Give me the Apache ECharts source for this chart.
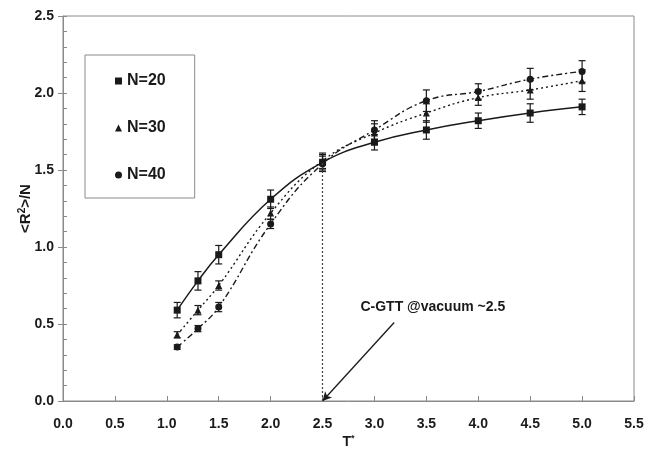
<!DOCTYPE html>
<html>
<head>
<meta charset="utf-8">
<script src="https://cdn.jsdelivr.net/npm/echarts@6/dist/echarts.min.js"></script>
<style>html,body{margin:0;padding:0;background:#fff}#c{width:648px;height:459px}</style>
</head>
<body>
<div id="c"></div>
<script>
// ---- data ----
const temps = [1.1, 1.3, 1.5, 2.0, 2.5, 3.0, 3.5, 4.0, 4.5, 5.0];
const n20 = [0.59, 0.78, 0.95, 1.31, 1.55, 1.68, 1.76, 1.82, 1.87, 1.91];
const n20Err = [0.05, 0.06, 0.06, 0.06, 0.05, 0.05, 0.06, 0.05, 0.06, 0.05];
const n30 = [0.43, 0.59, 0.75, 1.22, 1.56, 1.74, 1.87, 1.97, 2.02, 2.08];
const n30Err = [0.02, 0.03, 0.03, 0.04, 0.05, 0.06, 0.06, 0.05, 0.06, 0.07];
const n40 = [0.35, 0.47, 0.61, 1.15, 1.54, 1.76, 1.95, 2.01, 2.09, 2.14];
const n40Err = [0.015, 0.02, 0.03, 0.03, 0.05, 0.06, 0.07, 0.05, 0.07, 0.07];
const seriesNames = ['N=20', 'N=30', 'N=40'];
const xTicks = ['0.0','0.5','1.0','1.5','2.0','2.5','3.0','3.5','4.0','4.5','5.0','5.5'];
const yTicks = ['0.0','0.5','1.0','1.5','2.0','2.5'];
const transitionT = 2.5;
const transitionY = 1.55;
const annotationText = 'C-GTT @vacuum ~2.5';
const annotationTextPos = [2.86, 0.61];
const arrowFrom = [3.19, 0.51];
const arrowTo = [2.5, 0];

// ---- build ----
const FONT = 'Arial, "Liberation Sans", sans-serif';
const INK = '#1a1a1a';
const pairs = (ys, errs) => temps.map((t, i) => errs ? [t, ys[i], errs[i]] : [t, ys[i]]);

function errSeries(ys, errs) {
  return {
    type: 'custom',
    silent: true,
    z: 3,
    data: pairs(ys, errs),
    encode: { x: 0, y: 1 },
    renderItem: function (params, api) {
      const x = api.value(0), y = api.value(1), e = api.value(2);
      const top = api.coord([x, y + e]);
      const bot = api.coord([x, y - e]);
      const cw = 3.5;
      const st = { stroke: INK, lineWidth: 1.2 };
      return {
        type: 'group',
        children: [
          { type: 'line', shape: { x1: top[0], y1: top[1], x2: bot[0], y2: bot[1] }, style: st },
          { type: 'line', shape: { x1: top[0] - cw, y1: top[1], x2: top[0] + cw, y2: top[1] }, style: st },
          { type: 'line', shape: { x1: bot[0] - cw, y1: bot[1], x2: bot[0] + cw, y2: bot[1] }, style: st }
        ]
      };
    }
  };
}

const chart = echarts.init(document.getElementById('c'), null, { renderer: 'canvas' });
chart.setOption({
  animation: false,
  backgroundColor: '#fff',
  textStyle: { fontFamily: FONT },
  grid: { left: 63, right: 14, top: 16, bottom: 58, show: true, borderColor: '#8a8a8a', borderWidth: 1 },
  legend: {
    data: [
      { name: seriesNames[0], icon: 'rect' },
      { name: seriesNames[1], icon: 'triangle' },
      { name: seriesNames[2], icon: 'circle' }
    ],
    orient: 'vertical',
    left: 85, top: 55,
    padding: [18, 29, 15, 30],
    itemGap: 31,
    itemWidth: 7, itemHeight: 7,
    borderColor: '#8a8a8a', borderWidth: 1,
    textStyle: { fontSize: 16, fontWeight: 'bold', color: INK, fontFamily: FONT }
  },
  xAxis: {
    type: 'value', min: 0, max: 5.5, interval: 0.5,
    name: 'T{sup|*}', nameLocation: 'middle', nameGap: 33, nameMoveOverlap: false,
    nameTextStyle: { fontSize: 14, fontWeight: 'bold', color: INK, rich: { sup: { fontSize: 9, fontWeight: 'bold', color: INK, padding: [0, 0, 8, 0] } } },
    axisLine: { lineStyle: { color: '#8a8a8a' } },
    axisTick: { inside: true, length: 5, lineStyle: { color: '#8a8a8a' } },
    axisLabel: { margin: 16, fontSize: 14, fontWeight: 'bold', color: INK, formatter: (v) => xTicks[Math.round(v / 0.5)] },
    splitLine: { show: false }
  },
  yAxis: [{
    type: 'value', min: 0, max: 2.5, interval: 0.5, position: 'left',
    name: '<R{sup|2}>/N', nameLocation: 'middle', nameGap: 28, nameRotate: 90, nameMoveOverlap: false,
    nameTextStyle: { fontSize: 15, fontWeight: 'bold', color: INK, rich: { sup: { fontSize: 10, fontWeight: 'bold', color: INK, padding: [0, 0, 8, 0] } } },
    axisLine: { show: true, lineStyle: { color: '#8a8a8a' } },
    axisTick: { show: true, inside: false, length: 5, lineStyle: { color: '#8a8a8a' } },
    axisLabel: { margin: 9, fontSize: 14, fontWeight: 'bold', color: INK, formatter: (v) => yTicks[Math.round(v / 0.5)] },
    splitLine: { show: false }
  }, {
    type: 'value', min: 0, max: 2.5, interval: 0.1, position: 'left', offset: 0,
    axisLine: { show: false },
    axisTick: { show: true, inside: true, length: 4, lineStyle: { color: '#8a8a8a' } },
    axisLabel: { show: false },
    splitLine: { show: false }
  }],
  series: [
    {
      name: 'N=20', type: 'line', data: pairs(n20), smooth: 0.45,
      symbol: 'rect', symbolSize: 7, z: 4,
      itemStyle: { color: INK },
      lineStyle: { color: INK, width: 1.5, type: 'solid' },
      markLine: {
        silent: true, symbol: ['none', 'arrow'], symbolSize: [7, 9],
        label: { show: false },
        lineStyle: { color: INK, width: 1.3, type: 'solid' },
        data: [[{ coord: arrowFrom }, { coord: arrowTo }]]
      },
      markPoint: {
        silent: true, symbol: 'circle', symbolSize: 1,
        itemStyle: { color: 'rgba(0,0,0,0)' },
        label: { show: true, position: 'right', distance: 0, formatter: annotationText, fontSize: 14, fontWeight: 'bold', color: INK, fontFamily: FONT },
        data: [{ coord: annotationTextPos }]
      }
    },
    {
      name: 'N=30', type: 'line', data: pairs(n30), smooth: 0.45,
      symbol: 'triangle', symbolSize: 7, z: 4,
      itemStyle: { color: INK },
      lineStyle: { color: INK, width: 1.4, type: [2, 3] },
      markLine: {
        silent: true, symbol: ['none', 'none'],
        label: { show: false },
        lineStyle: { color: '#444', width: 1.2, type: [2, 2] },
        data: [[{ coord: [transitionT, 0] }, { coord: [transitionT, transitionY] }]]
      }
    },
    {
      name: 'N=40', type: 'line', data: pairs(n40), smooth: 0.45,
      symbol: 'circle', symbolSize: 7, z: 4,
      itemStyle: { color: INK },
      lineStyle: { color: INK, width: 1.4, type: [6, 3, 2, 3] }
    },
    errSeries(n20, n20Err),
    errSeries(n30, n30Err),
    errSeries(n40, n40Err)
  ]
});
</script>
</body>
</html>
